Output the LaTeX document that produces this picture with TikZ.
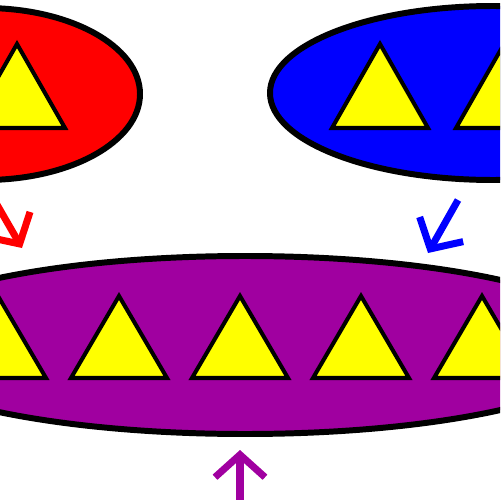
\documentclass[tikz,border=0pt]{standalone}
\usetikzlibrary{arrows.meta}

\definecolor{grpred}{RGB}{255,0,0}
\definecolor{grpblue}{RGB}{0,0,255}
\definecolor{grppurple}{RGB}{160,0,160}
\definecolor{tryellow}{RGB}{255,255,0}

\tikzset{
    blob/.style={draw=black, line width=3.4pt},
    tri/.style={draw=black, fill=tryellow, line width=2.3pt},
    mergearrow/.style={line width=4pt, -{Straight Barb[length=0.45cm, width=1cm]}}
}

\begin{document}
\begin{tikzpicture}[x=0.02cm, y=-0.02cm]

        \useasboundingbox (0,0) rectangle (500,500);
        \clip (0,0) rectangle (500,500);

        \draw[blob, fill=grpred]    (-15,94) ellipse (155 and 86);
        \draw[blob, fill=grpblue]   (493,93) ellipse (223 and 87);
        \draw[blob, fill=grppurple] (245,345) ellipse (374 and 89);

        \draw[tri] (17,44) -- (65,128) -- (-31,128) -- cycle;

        \draw[tri] (380,44) -- (428,128) -- (332,128) -- cycle;
        \draw[tri] (504,44) -- (552,128) -- (456,128) -- cycle;

        \draw[tri] (-2,296) -- (46,378) -- (-50,378) -- cycle;
        \draw[tri] (119,296) -- (167,378) -- (71,378) -- cycle;
        \draw[tri] (240,296) -- (288,378) -- (192,378) -- cycle;
        \draw[tri] (361,296) -- (409,378) -- (313,378) -- cycle;
        \draw[tri] (482,296) -- (530,378) -- (434,378) -- cycle;

        \coordinate (redfrom) at (-8,196);
        \coordinate (redto) at (22,248);
        \coordinate (bluefrom) at (458,200);
        \coordinate (blueto) at (428,253);
        \coordinate (purplefrom) at (240,510);
        \coordinate (purpleto) at (240,450);

        \draw[mergearrow, grpred] (redfrom) -- (redto);
        \draw[mergearrow, grpblue] (bluefrom) -- (blueto);
        \draw[mergearrow, grppurple] (purplefrom) -- (purpleto);
    \end{tikzpicture}
\end{document}
